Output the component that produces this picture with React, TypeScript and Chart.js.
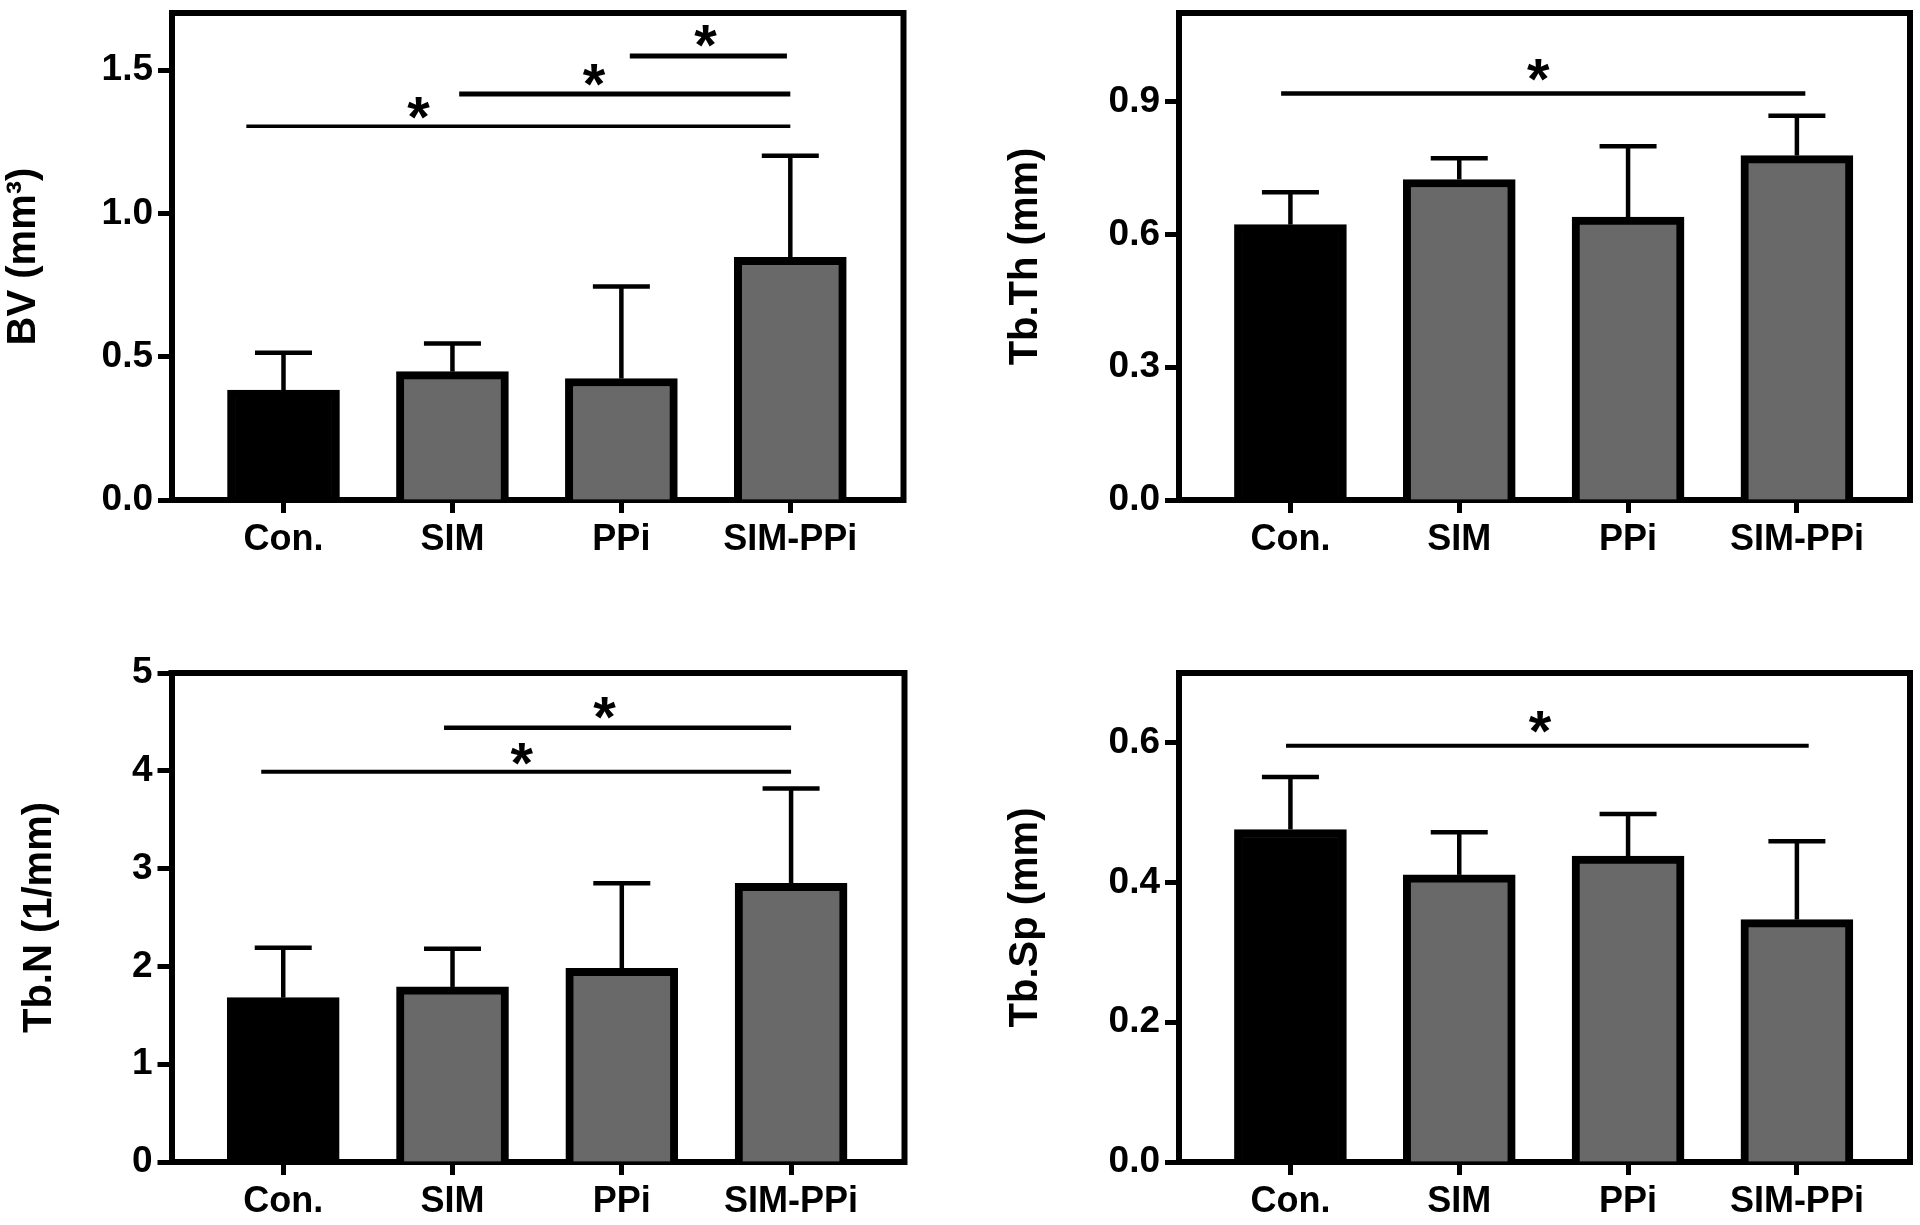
import React, { useEffect, useRef } from "react";
import { Chart, registerables } from "chart.js";

Chart.register(...registerables);

const FONT_FAMILY = '"Liberation Sans", Arial, Helvetica, sans-serif';

// ---- data ----
const categories = ["Con.", "SIM", "PPi", "SIM-PPi"];
const categoryPositions = [0, 1, 2, 3];

// BV (mm³)
const bvMeans = [0.384, 0.448, 0.424, 0.847];
const bvErrorTops = [0.514, 0.546, 0.745, 1.202];
const bvTickValues = [0, 0.5, 1.0, 1.5];
const bvTickLabels = ["0.0", "0.5", "1.0", "1.5"];
const bvSigLines = [
  [-0.22, 3.0, 1.305],
  [1.04, 3.0, 1.417],
  [2.05, 2.98, 1.55],
];
const bvStars = [
  [0.8, 1.37],
  [1.84, 1.482],
  [2.5, 1.619],
];

// Tb.Th (mm)
const thMeans = [0.622, 0.724, 0.639, 0.778];
const thErrorTops = [0.695, 0.772, 0.799, 0.868];
const thTickValues = [0, 0.3, 0.6, 0.9];
const thTickLabels = ["0.0", "0.3", "0.6", "0.9"];
const thSigLines = [[-0.055, 3.05, 0.918]];
const thStars = [[1.47, 0.971]];

// Tb.N (1/mm)
const tnMeans = [1.68, 1.79, 1.98, 2.85];
const tnErrorTops = [2.19, 2.18, 2.85, 3.82];
const tnTickValues = [0, 1, 2, 3, 4, 5];
const tnTickLabels = ["0", "1", "2", "3", "4", "5"];
const tnSigLines = [
  [-0.13, 3.0, 3.99],
  [0.95, 3.0, 4.44],
];
const tnStars = [
  [1.41, 4.17],
  [1.9, 4.64],
];

// Tb.Sp (mm)
const spMeans = [0.476, 0.411, 0.438, 0.347];
const spErrorTops = [0.551, 0.472, 0.498, 0.459];
const spTickValues = [0, 0.2, 0.4, 0.6];
const spTickLabels = ["0.0", "0.2", "0.4", "0.6"];
const spSigLines = [[-0.026, 3.07, 0.596]];
const spStars = [[1.48, 0.63]];

const barColors = ["#000000", "#696969", "#696969", "#696969"];

type PanelSpec = {
  title: string;
  means: number[];
  errTops: number[];
  yMax: number;
  tickValues: number[];
  tickLabels: string[];
  sigLines: number[][];
  sigWidths: number[];
  stars: number[][];
  left: number;
  top: number;
  width: number;
  height: number;
  titlePad: number;
  axisX: number;
  areaTop: number;
  areaBottom: number;
  areaRight: number;
};

const panels: PanelSpec[] = [
  {
    title: "BV (mm³)",
    means: bvMeans,
    errTops: bvErrorTops,
    yMax: 1.7,
    tickValues: bvTickValues,
    tickLabels: bvTickLabels,
    sigLines: bvSigLines,
    sigWidths: [3.5, 5, 5],
    stars: bvStars,
    left: 0,
    top: 0,
    width: 960,
    height: 612,
    titlePad: 2,
    axisX: 172,
    areaTop: 13,
    areaBottom: 500,
    areaRight: 903.5,
  },
  {
    title: "Tb.Th (mm)",
    means: thMeans,
    errTops: thErrorTops,
    yMax: 1.1,
    tickValues: thTickValues,
    tickLabels: thTickLabels,
    sigLines: thSigLines,
    sigWidths: [4.5],
    stars: thStars,
    left: 960,
    top: 0,
    width: 960,
    height: 612,
    titlePad: 44,
    axisX: 219,
    areaTop: 13,
    areaBottom: 500,
    areaRight: 950,
  },
  {
    title: "Tb.N (1/mm)",
    means: tnMeans,
    errTops: tnErrorTops,
    yMax: 5,
    tickValues: tnTickValues,
    tickLabels: tnTickLabels,
    sigLines: tnSigLines,
    sigWidths: [4, 4.5],
    stars: tnStars,
    left: 0,
    top: 612,
    width: 960,
    height: 613,
    titlePad: 18,
    axisX: 171.5,
    areaTop: 61,
    areaBottom: 550,
    areaRight: 904.5,
  },
  {
    title: "Tb.Sp (mm)",
    means: spMeans,
    errTops: spErrorTops,
    yMax: 0.7,
    tickValues: spTickValues,
    tickLabels: spTickLabels,
    sigLines: spSigLines,
    sigWidths: [4],
    stars: spStars,
    left: 960,
    top: 612,
    width: 960,
    height: 613,
    titlePad: 44,
    axisX: 219,
    areaTop: 61,
    areaBottom: 550,
    areaRight: 950,
  },
];

const STAR_HEIGHT = 22;

function drawStar(ctx: CanvasRenderingContext2D, x: number, y: number) {
  ctx.save();
  ctx.font = `bold 100px ${FONT_FAMILY}`;
  const m = ctx.measureText("*");
  const h = m.actualBoundingBoxAscent + m.actualBoundingBoxDescent;
  const size = (100 * STAR_HEIGHT) / (h || 30);
  ctx.font = `bold ${size}px ${FONT_FAMILY}`;
  const m2 = ctx.measureText("*");
  ctx.textAlign = "left";
  ctx.textBaseline = "alphabetic";
  ctx.fillStyle = "#000";
  const bx = x - (m2.actualBoundingBoxRight - m2.actualBoundingBoxLeft) / 2;
  const by = y + (m2.actualBoundingBoxAscent - m2.actualBoundingBoxDescent) / 2;
  ctx.fillText("*", bx, by);
  ctx.restore();
}

function Panel({ spec }: { spec: PanelSpec }) {
  const ref = useRef<HTMLCanvasElement | null>(null);

  useEffect(() => {
    const canvas = ref.current;
    if (!canvas) return;

    const overlay = {
      id: "overlay_" + spec.title,
      afterDatasetsDraw(chart: any) {
        const ctx: CanvasRenderingContext2D = chart.ctx;
        const xs = chart.scales.x;
        const ys = chart.scales.y;
        ctx.save();
        ctx.strokeStyle = "#000";
        ctx.lineCap = "butt";
        // error bars
        spec.means.forEach((m, i) => {
          const px = xs.getPixelForValue(categoryPositions[i]);
          const y0 = ys.getPixelForValue(m);
          const y1 = ys.getPixelForValue(spec.errTops[i]);
          ctx.lineWidth = 4.5;
          ctx.beginPath();
          ctx.moveTo(px, y0);
          ctx.lineTo(px, y1);
          ctx.stroke();
          ctx.beginPath();
          ctx.moveTo(px - 28.5, y1);
          ctx.lineTo(px + 28.5, y1);
          ctx.stroke();
        });
        // significance lines
        spec.sigLines.forEach((ln, i) => {
          const xa = xs.getPixelForValue(ln[0]);
          const xb = xs.getPixelForValue(ln[1]);
          const yy = ys.getPixelForValue(ln[2]);
          ctx.lineWidth = spec.sigWidths[i] || 4;
          ctx.beginPath();
          ctx.moveTo(xa, yy);
          ctx.lineTo(xb, yy);
          ctx.stroke();
        });
        ctx.restore();
        spec.stars.forEach((s) => {
          drawStar(ctx, xs.getPixelForValue(s[0]), ys.getPixelForValue(s[1]));
        });
      },
      afterDraw(chart: any) {
        const ctx: CanvasRenderingContext2D = chart.ctx;
        const a = chart.chartArea;
        ctx.save();
        ctx.strokeStyle = "#000";
        ctx.lineWidth = 6;
        ctx.lineJoin = "miter";
        ctx.beginPath();
        ctx.moveTo(a.left - 3, a.top);
        ctx.lineTo(a.right, a.top);
        ctx.lineTo(a.right, a.bottom + 3);
        ctx.stroke();
        ctx.restore();
      },
    };

    const yTickFont = { family: FONT_FAMILY, size: 37, weight: "bold" as const };
    const xTickFont = { family: FONT_FAMILY, size: 36, weight: "bold" as const };

    const chart = new Chart(canvas, {
      type: "bar",
      data: {
        datasets: [
          {
            data: categoryPositions.map((x, i) => ({ x, y: spec.means[i] })),
            backgroundColor: barColors,
            borderColor: "#000",
            borderWidth: 8,
            barThickness: 112,
            borderSkipped: "start",
          } as any,
        ],
      },
      options: {
        responsive: false,
        maintainAspectRatio: false,
        animation: false,
        events: [],
        layout: {
          padding: {
            left: spec.titlePad,
            right: spec.width - spec.areaRight,
            top: spec.areaTop,
            bottom: 10,
          },
        },
        plugins: {
          legend: { display: false },
          tooltip: { enabled: false },
          title: { display: false },
        },
        scales: {
          x: {
            type: "linear",
            min: -0.66,
            max: 3.67,
            offset: false,
            z: 1,
            afterBuildTicks: (s: any) => {
              s.ticks = categoryPositions.map((v) => ({ value: v }));
            },
            afterFit: (s: any) => {
              s.height = spec.height - 10 - spec.areaBottom;
              s.paddingLeft = 0;
              s.paddingRight = 0;
            },
            ticks: {
              autoSkip: false,
              maxRotation: 0,
              minRotation: 0,
              padding: 5,
              color: "#000",
              font: xTickFont,
              callback: (_v: any, i: number) => categories[i],
            },
            grid: {
              display: true,
              offset: false,
              drawOnChartArea: false,
              drawTicks: true,
              tickLength: 13,
              tickWidth: 5,
              tickColor: "#000",
            },
            border: { display: true, width: 6, color: "#000" },
          } as any,
          y: {
            type: "linear",
            min: 0,
            max: spec.yMax,
            afterBuildTicks: (s: any) => {
              s.ticks = spec.tickValues.map((v) => ({ value: v }));
            },
            afterFit: (s: any) => {
              s.width = spec.axisX - spec.titlePad;
              s.paddingTop = 0;
              s.paddingBottom = 0;
            },
            ticks: {
              padding: 5,
              color: "#000",
              font: yTickFont,
              callback: (_v: any, i: number) => spec.tickLabels[i],
            },
            grid: {
              display: true,
              drawOnChartArea: false,
              drawTicks: true,
              tickLength: 14,
              tickWidth: 5,
              tickColor: "#000",
            },
            border: { display: true, width: 6, color: "#000" },
            title: {
              display: true,
              text: spec.title,
              color: "#000",
              padding: 0,
              font: { family: FONT_FAMILY, size: 40, weight: "bold", lineHeight: 1.1 },
            },
          } as any,
        },
      },
      plugins: [overlay],
    });

    return () => chart.destroy();
  }, [spec]);

  return (
    <canvas
      ref={ref}
      width={spec.width}
      height={spec.height}
      style={{
        position: "absolute",
        left: spec.left,
        top: spec.top,
        width: spec.width,
        height: spec.height,
        display: "block",
      }}
    />
  );
}

export default function App() {
  return (
    <div
      style={{
        position: "absolute",
        left: 0,
        top: 0,
        width: 1920,
        height: 1225,
        background: "#ffffff",
        overflow: "hidden",
      }}
    >
      {panels.map((p) => (
        <Panel key={p.title} spec={p} />
      ))}
    </div>
  );
}
